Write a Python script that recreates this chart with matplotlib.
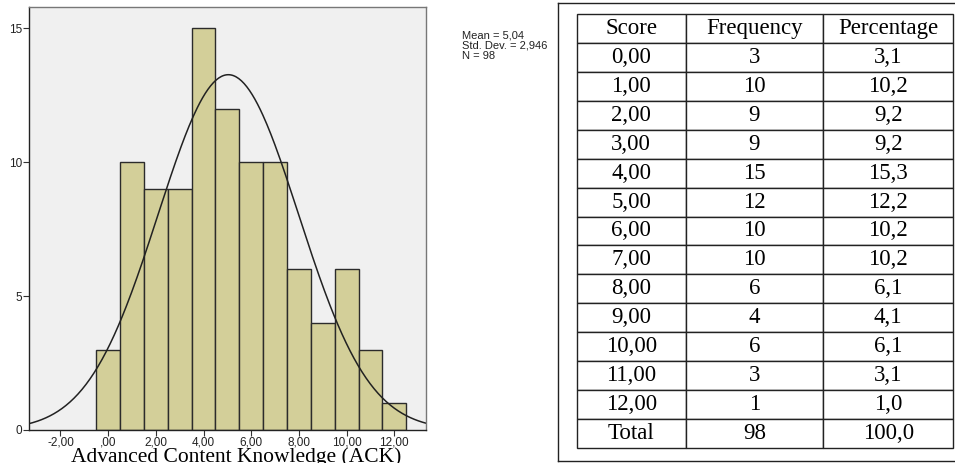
import matplotlib
matplotlib.use('Agg')
import matplotlib.pyplot as plt
import numpy as np

scores = [0, 1, 2, 3, 4, 5, 6, 7, 8, 9, 10, 11, 12]
freq = [3, 10, 9, 9, 15, 12, 10, 10, 6, 4, 6, 3, 1]
pct = ['3,1', '10,2', '9,2', '9,2', '15,3', '12,2', '10,2', '10,2', '6,1', '4,1', '6,1', '3,1', '1,0']
score_labels = ['0,00', '1,00', '2,00', '3,00', '4,00', '5,00', '6,00', '7,00',
                '8,00', '9,00', '10,00', '11,00', '12,00']
col_labels = ['Score', 'Frequency', 'Percentage']
total_row = ['Total', '98', '100,0']
mean, sd, n = 5.04, 2.946, 98
xticks = [-2, 0, 2, 4, 6, 8, 10, 12]
xtick_labels = ['-2,00', ',00', '2,00', '4,00', '6,00', '8,00', '10,00', '12,00']
yticks = [0, 5, 10, 15]

W, H = 955, 463
fig = plt.figure(figsize=(W / 100, H / 100), dpi=100)


def box(x0, y0, x1, y1):
    # pixel box -> figure fraction
    return [x0 / W, 1 - y1 / H, (x1 - x0) / W, (y1 - y0) / H]


# histogram
ax = fig.add_axes(box(29, 7, 426, 430))
ax.set_facecolor('#f0f0f0')
ax.bar(scores, freq, width=1, color='#d3cf99', edgecolor='#2b2b2b', linewidth=1)
xs = np.linspace(-3.4, 13.4, 300)
ys = n * np.exp(-0.5 * ((xs - mean) / sd) ** 2) / (sd * np.sqrt(2 * np.pi))
ax.plot(xs, ys, color='#222222', lw=1.1)
ax.set_xlim(-3.32, 13.33)
ax.set_ylim(0, 15.8)
ax.set_xticks(xticks)
ax.set_xticklabels(xtick_labels, fontsize=8.5, family='Liberation Sans', color='#222222')
ax.set_yticks(yticks)
ax.set_yticklabels([str(v) for v in yticks], fontsize=8.5, family='Liberation Sans', color='#222222')
ax.tick_params(length=4, width=0.8, pad=1, color='#333333')
for s in ax.spines.values():
    s.set_color('#777777')
    s.set_linewidth(1)
ax.spines['bottom'].set_color('#222222')
ax.spines['left'].set_color('#222222')
fig.text(236 / W, 1 - 447 / H, 'Advanced Content Knowledge (ACK)', ha='center', va='top',
         fontsize=15.5, family='Liberation Serif')
fig.text(462 / W, 1 - 30 / H, 'Mean = 5,04\nStd. Dev. = 2,946\nN = 98', ha='left', va='top',
         fontsize=8, family='Liberation Sans', linespacing=1.05, color='#222222')

# outer frame for table
fr = fig.add_axes(box(558, 3, 975, 461))
fr.set_xticks([])
fr.set_yticks([])
for s in fr.spines.values():
    s.set_color('#222222')
    s.set_linewidth(1)

# frequency table
tx = fig.add_axes(box(577, 14, 953, 448))
tx.axis('off')
cells = [[score_labels[i], str(freq[i]), pct[i]] for i in range(len(scores))] + [total_row]
tbl = tx.table(cellText=cells, colLabels=col_labels, bbox=[0, 0, 1, 1],
               colWidths=[108.4, 137.6, 129.4], cellLoc='center')
tbl.auto_set_font_size(False)
for (r, c), cell in tbl.get_celld().items():
    cell.set_linewidth(1)
    cell.set_edgecolor('#222222')
    cell.get_text().set_fontsize(16.5)
    cell.get_text().set_family('Liberation Serif')

fig.savefig('out.png', dpi=100)
